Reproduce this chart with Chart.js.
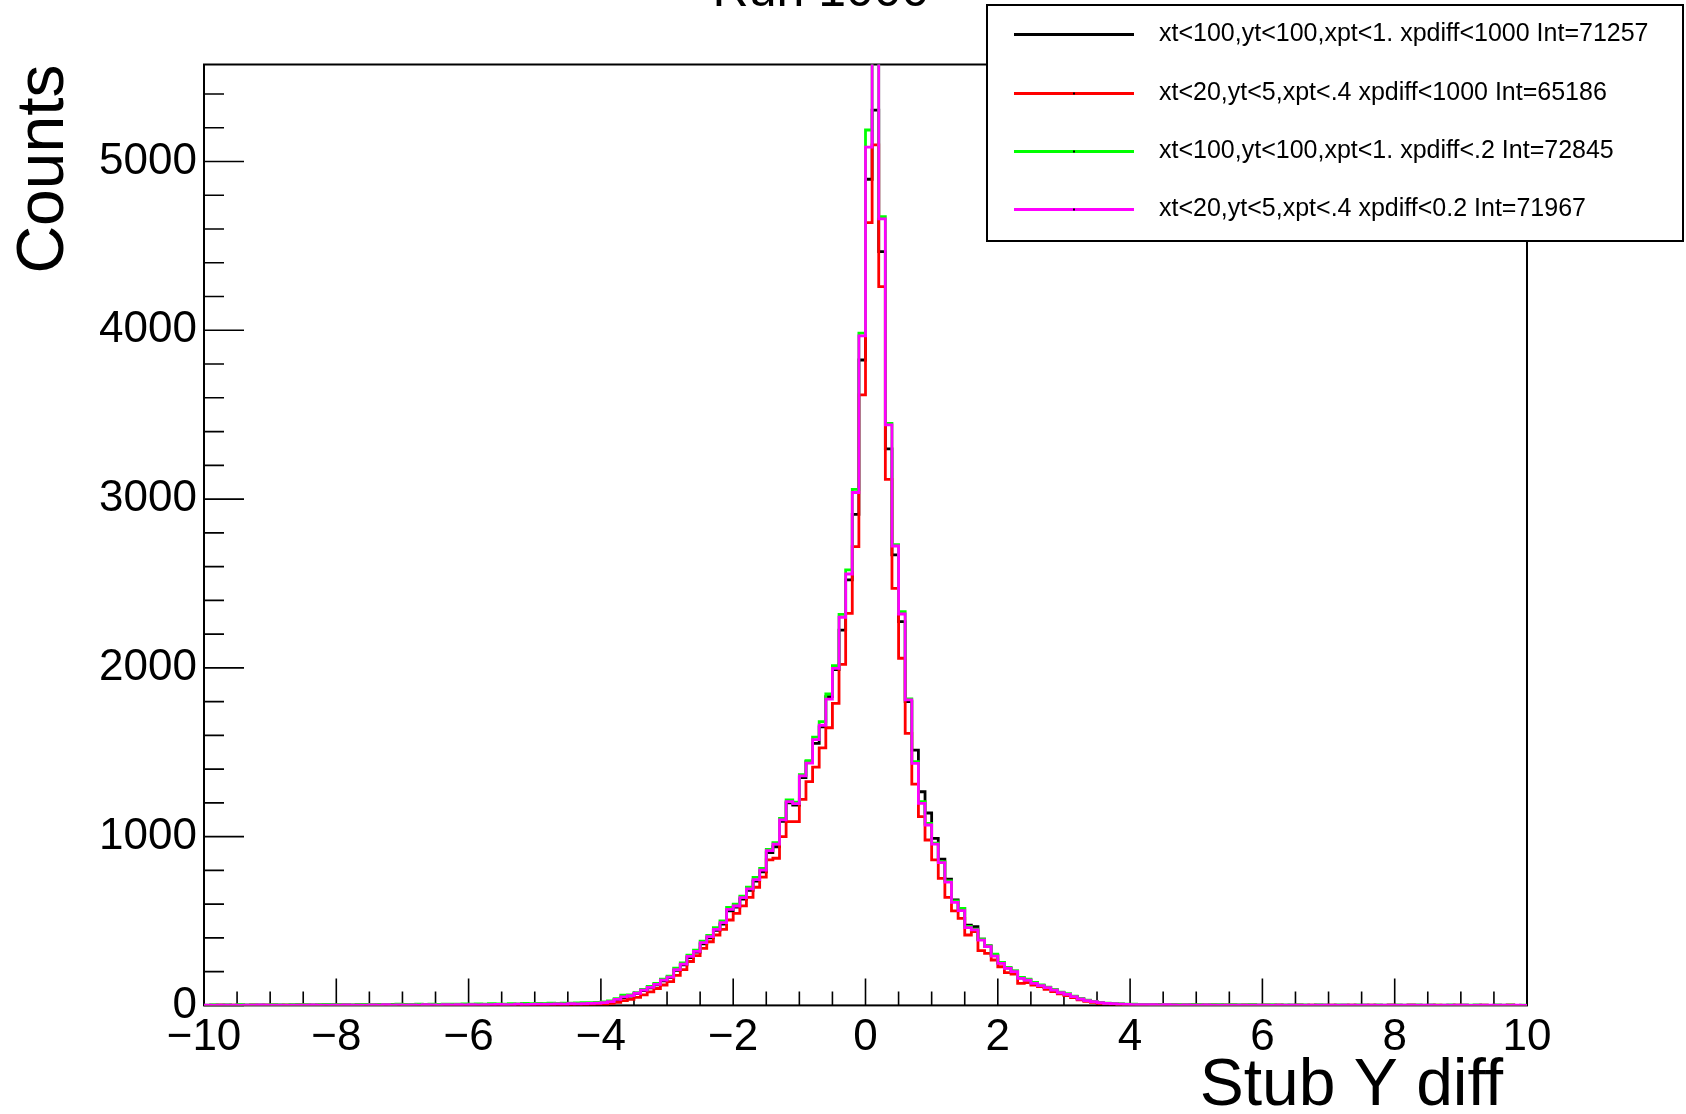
<!DOCTYPE html>
<html>
<head>
<meta charset="utf-8">
<script src="https://cdn.jsdelivr.net/npm/chart.js@4.4.1/dist/chart.umd.min.js"></script>
<style>
  html, body { margin: 0; padding: 0; background: #fff; }
  canvas { display: block; }
</style>
</head>
<body>
<canvas id="stubChart" width="1686" height="1114"></canvas>
<script>
// histogram binning: 200 bins on [-10, 10]
const binLow = -10;
const binHigh = 10;
const nBins = 200;

const xTicks = [-10, -8, -6, -4, -2, 0, 2, 4, 6, 8, 10];
const yTicks = [0, 1000, 2000, 3000, 4000, 5000];

const labels = [
    'xt<100,yt<100,xpt<1. xpdiff<1000 Int=71257',
    'xt<20,yt<5,xpt<.4 xpdiff<1000 Int=65186',
    'xt<100,yt<100,xpt<1. xpdiff<.2 Int=72845',
    'xt<20,yt<5,xpt<.4 xpdiff<0.2 Int=71967'
];
const colors = ['#000000', '#ff0000', '#00ff00', '#ff00ff'];

// bins -10.0 .. -4.1
const blackLeft = [0,1,1,2,0,1,1,2,1,2, 1,2,1,1,3,2,1,2,2,3, 2,1,2,3,2,2,3,3,4,2, 3,2,3,3,4,3,3,4,4,5, 3,4,4,5,5,6,5,6,7,6, 7,8,7,8,9,9,10,11,12,13];
const redLeft   = [0,0,1,0,1,0,0,1,0,1, 1,0,1,0,1,1,0,1,1,0, 1,1,0,1,2,1,1,0,1,2, 1,1,2,1,2,2,1,2,2,3, 2,2,3,2,3,3,2,3,4,3, 4,3,4,5,4,5,6,5,6,7];
const greenLeft = [2,3,1,3,2,4,2,3,3,2, 4,3,2,4,3,5,3,4,6,3, 4,5,3,5,6,4,5,6,5,7, 5,6,7,5,8,6,7,8,7,9, 8,9,7,10,9,8,11,9,12,10, 12,11,13,12,14,13,15,16,17,18];
const magLeft   = [1,0,2,1,1,0,2,1,3,1, 2,1,0,2,2,1,3,2,1,2, 1,3,2,2,1,3,2,4,2,3, 2,3,1,4,3,2,4,3,5,3, 4,3,5,4,6,4,5,7,5,6, 8,6,7,9,8,10,9,11,12,14];

// bins -4.0 .. 3.9
const blackCore = [15,20,33,46,55,70,88,104,122,146,
    165,208,240,283,316,365,400,445,482,560,
    582,630,682,736,792,905,940,1090,1200,1187,
    1350,1444,1553,1650,1830,1990,2224,2521,2910,3824,
    4895,5305,4466,3297,2669,2274,1800,1513,1266,1140,
    990,867,748,625,575,476,467,392,352,296,
    252,222,203,163,152,133,119,106,92,76,
    66,53,39,29,22,16,12,10,8,6];
const redCore = [8,12,18,28,36,48,62,80,100,121,
    141,178,212,260,295,338,377,417,451,506,
    545,590,640,700,760,862,872,1000,1089,1089,
    1221,1326,1412,1526,1645,1790,2021,2323,2718,3617,
    4638,5099,4259,3117,2471,2057,1612,1311,1118,980,
    862,753,640,560,516,417,438,324,308,269,
    229,194,186,131,135,121,111,95,82,68,
    58,46,33,24,18,12,9,7,5,4];
const greenCore = [20,26,40,60,62,76,95,112,130,156,
    174,220,252,297,328,380,415,460,500,580,
    600,648,700,758,812,925,965,1108,1217,1205,
    1367,1450,1589,1681,1845,2013,2317,2580,3058,3983,
    5187,5800,4674,3449,2730,2333,1816,1444,1207,1079,
    962,852,738,619,575,468,452,392,353,304,
    255,224,205,166,155,136,121,108,94,78,
    68,55,41,31,24,18,14,12,9,7];
const magCore = [16,22,36,50,58,72,90,107,125,150,
    168,212,245,290,320,372,407,451,490,569,
    589,638,690,745,802,917,956,1099,1207,1195,
    1360,1435,1575,1660,1815,1997,2300,2556,3039,3967,
    5085,5850,4660,3440,2722,2319,1810,1434,1197,1069,
    955,846,730,610,561,461,447,387,348,292,
    249,219,200,160,150,131,117,105,91,75,
    65,52,38,28,22,16,12,10,8,6];

// bins 4.0 .. 9.9
const blackRight = [5,4,4,3,4,3,3,2,2,3, 2,2,2,1,2,1,2,1,1,1, 2,1,1,0,1,1,1,0,1,1, 0,1,1,0,1,1,0,1,0,1, 1,0,1,1,0,1,0,0,1,0, 1,0,1,0,0,1,0,1,0,0];
const redRight   = [3,3,2,2,2,1,2,1,1,2, 1,1,1,0,1,1,0,1,1,0, 1,0,1,0,0,1,0,1,0,0, 1,0,0,1,0,0,1,0,0,1, 0,0,1,0,0,0,1,0,0,1, 0,0,0,1,0,0,0,1,0,0];
const greenRight = [7,6,6,5,5,6,4,5,4,4, 5,3,4,4,3,4,3,3,4,2, 3,3,2,3,2,3,2,2,3,2, 2,1,2,2,1,2,2,1,2,1, 2,1,1,2,1,1,2,1,1,1, 1,2,1,1,0,1,1,1,0,1];
const magRight   = [5,5,4,4,3,4,3,2,3,2, 2,3,1,2,2,1,2,1,1,2, 1,0,1,2,1,1,0,1,2,1, 1,0,1,1,0,1,2,0,1,1, 0,1,1,0,2,1,0,1,0,1, 1,0,0,1,1,0,1,0,1,0];

const blackCounts = blackLeft.concat(blackCore, blackRight);
const redCounts = redLeft.concat(redCore, redRight);
const greenCounts = greenLeft.concat(greenCore, greenRight);
const magCounts = magLeft.concat(magCore, magRight);

const yMax = 5575;
const FONT = '"Liberation Sans", Arial, Helvetica, sans-serif';

// points at the low edge of each bin, plus the upper edge of the last bin
function histPoints(counts) {
    const w = (binHigh - binLow) / nBins;
    const pts = counts.map((c, i) => ({ x: binLow + i * w, y: c }));
    pts.push({ x: binHigh, y: counts[counts.length - 1] });
    return pts;
}

const series = [blackCounts, redCounts, greenCounts, magCounts];

// frame, inward ticks and axis titles (ROOT style)
const frameTicks = {
    id: 'frameTicks',
    beforeDatasetsDraw(chart) {
        const { ctx, chartArea: a, scales: { x, y } } = chart;
        ctx.save();
        ctx.strokeStyle = '#000';
        ctx.lineWidth = 2;
        ctx.strokeRect(a.left, a.top, a.right - a.left, a.bottom - a.top);

        ctx.lineWidth = 1.6;
        ctx.beginPath();
        for (let v = binLow; v <= binHigh + 1e-9; v += 0.5) {
            const px = x.getPixelForValue(v);
            const len = Math.abs(v % 2) < 1e-9 ? 27 : 14;
            ctx.moveTo(px, a.bottom);
            ctx.lineTo(px, a.bottom - len);
        }
        for (let v = 0; v <= yMax; v += 200) {
            const py = y.getPixelForValue(v);
            const len = v % 1000 === 0 ? 40 : 20;
            ctx.moveTo(a.left, py);
            ctx.lineTo(a.left + len, py);
        }
        ctx.stroke();

        ctx.fillStyle = '#000';
        ctx.font = '66px ' + FONT;
        ctx.textAlign = 'right';
        ctx.textBaseline = 'alphabetic';
        ctx.fillText('Stub Y diff', 1503, 1105);

        ctx.translate(63, a.top);
        ctx.rotate(-Math.PI / 2);
        ctx.fillText('Counts', 0, 0);
        ctx.restore();
    },
    afterDraw(chart) {
        const { ctx } = chart;
        ctx.save();
        // title, cut by the top edge
        ctx.fillStyle = '#000';
        ctx.font = '50px ' + FONT;
        ctx.textAlign = 'center';
        ctx.textBaseline = 'alphabetic';
        ctx.fillText('Run 1000', 821, 6);

        // legend box
        const bx = 987, by = 5, bw = 696, bh = 236;
        ctx.fillStyle = '#fff';
        ctx.fillRect(bx, by, bw, bh);
        ctx.strokeStyle = '#000';
        ctx.lineWidth = 2;
        ctx.strokeRect(bx, by, bw, bh);

        const rows = [34.5, 93.5, 151.5, 209.5];
        ctx.font = '25px ' + FONT;
        ctx.textAlign = 'left';
        ctx.textBaseline = 'middle';
        chart.data.datasets.forEach((ds, i) => {
            ctx.strokeStyle = ds.borderColor;
            ctx.lineWidth = 2.8;
            ctx.beginPath();
            ctx.moveTo(1014, rows[i]);
            ctx.lineTo(1134, rows[i]);
            ctx.stroke();
            ctx.fillStyle = '#000';
            ctx.fillRect(1073, rows[i] - 1, 2, 2);
            ctx.fillText(ds.label, 1159, rows[i]);
        });
        ctx.restore();
    }
};

new Chart(document.getElementById('stubChart').getContext('2d'), {
    type: 'line',
    data: {
        datasets: series.map((counts, i) => ({
            label: labels[i],
            data: histPoints(counts),
            borderColor: colors[i],
            borderWidth: 2.8,
            stepped: 'before',
            pointRadius: 0,
            fill: false,
            tension: 0,
            // later series are drawn on top, as in the original
            order: series.length - i
        }))
    },
    options: {
        responsive: false,
        animation: false,
        devicePixelRatio: 1,
        layout: { padding: { top: 64.5, right: 159, left: 0, bottom: 0 } },
        plugins: {
            legend: { display: false },
            title: { display: false },
            tooltip: { enabled: false }
        },
        scales: {
            x: {
                type: 'linear',
                min: binLow,
                max: binHigh,
                afterFit(scale) { scale.height = 108.6; },
                afterBuildTicks(scale) { scale.ticks = xTicks.map(v => ({ value: v })); },
                grid: { display: false, drawTicks: false },
                border: { display: false },
                ticks: {
                    color: '#000',
                    padding: 6,
                    maxRotation: 0,
                    autoSkip: false,
                    font: { family: FONT, size: 44 },
                    callback: v => (v < 0 ? '\u2212' + Math.abs(v) : String(v))
                }
            },
            y: {
                min: 0,
                max: yMax,
                afterFit(scale) { scale.width = 204; },
                afterBuildTicks(scale) { scale.ticks = yTicks.map(v => ({ value: v })); },
                grid: { display: false, drawTicks: false },
                border: { display: false },
                ticks: {
                    color: '#000',
                    padding: 7,
                    font: { family: FONT, size: 44 },
                    callback: v => String(v)
                }
            }
        }
    },
    plugins: [frameTicks]
});
</script>
</body>
</html>
